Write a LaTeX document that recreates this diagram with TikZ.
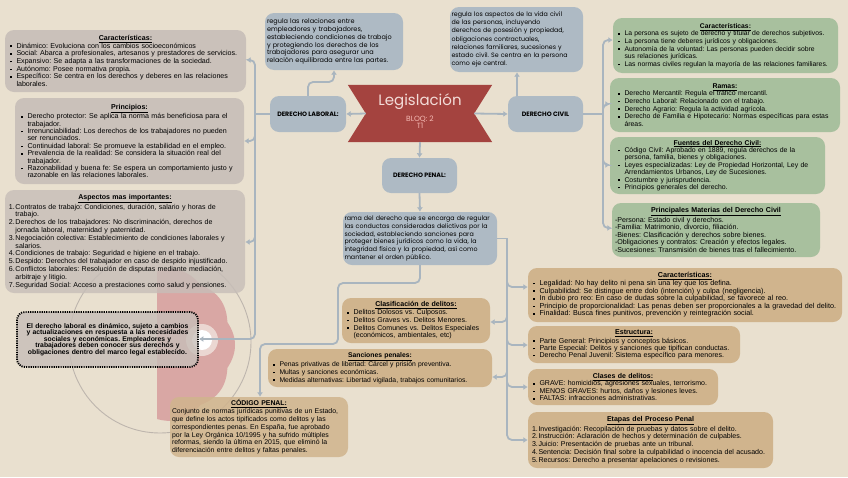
\documentclass[tikz,border=0pt]{standalone}
\usepackage{fontspec}
\setmainfont{Liberation Sans}
\newfontfamily\pop{Poppins}
\usetikzlibrary{arrows.meta,calc}
\definecolor{bgc}{HTML}{E9E0CF}
\definecolor{greyb}{HTML}{C7BEB8}
\definecolor{blueb}{HTML}{AEBAC4}
\definecolor{greenb}{HTML}{A8C09E}
\definecolor{tanb}{HTML}{D0B48D}
\definecolor{banner}{HTML}{A4433F}
\definecolor{connc}{HTML}{A9B5BF}
\definecolor{pinkl}{HTML}{EBD7D2}
\definecolor{pinkd}{HTML}{D9A7A4}
\definecolor{ringc}{HTML}{BDB5AD}
\definecolor{legt}{HTML}{F3DCD8}
\definecolor{legs}{HTML}{F4B9B3}
\setlength{\parindent}{0pt}
\frenchspacing
\hyphenpenalty=10000
\exhyphenpenalty=10000
\hfuzz=100pt
\newcommand\bul{\makebox[6.5pt][l]{\raisebox{1.1pt}{\rule{1.6pt}{1.6pt}}}}
\newcommand\Bi[1]{\bul\mbox{#1}}
\newcommand\Ci[1]{\hspace*{6.5pt}\mbox{#1}}
\newcommand\Ni[2]{\makebox[6.5pt][l]{#1}\mbox{#2}}
\newcommand\Li[1]{\mbox{#1}}
\newcommand\ttl[1]{{\centering\underline{\textbf{#1}}\par}}
\tikzset{
  bx/.style={rounded corners=9pt, inner xsep=6pt, inner ysep=2pt, align=left},
  conn/.style={draw=connc, line width=1.8pt, rounded corners=5pt},
  arr/.style={-{Latex[length=4.5pt,width=6pt]}},
  hdr/.style={rounded corners=9pt, fill=blueb, font=\pop\bfseries\fontsize{6.3}{7}\selectfont, align=center}
}
\begin{document}
\begin{tikzpicture}[x=1pt,y=-1pt]
\path[use as bounding box, fill=bgc] (0,0) rectangle (848,477);

% decoration
\fill[pinkd] plot[domain=-90:90, samples=181, smooth] ({157+(74+4*abs(cos(5*\x)))*cos(\x)}, {345+(74+4*abs(cos(5*\x)))*sin(\x)}) -- cycle;
\draw[ringc, line width=0.9pt] (160,342) circle (91);
\fill[pinkl] (202,340) circle (16);
\fill[white] (202,340) circle (10);

% left column
\node[bx, fill=greyb, fill opacity=0.9, text opacity=1, minimum width=241pt, minimum height=62pt, text width=231pt, inner xsep=5pt, font=\fontsize{7.1}{7.7}\selectfont] (LC) at (125.5,61) {\ttl{Características:}
\Bi{Dinámico: Evoluciona con los cambios socioeconómicos}\\
\Bi{Social: Abarca a profesionales, artesanos y prestadores de servicios.}\\
\Bi{Expansivo: Se adapta a las transformaciones de la sociedad.}\\
\Bi{Autónomo: Posee normativa propia.}\\
\Bi{Específico: Se centra en los derechos y deberes en las relaciones}\\
\Ci{laborales.}};

\node[bx, fill=greyb, fill opacity=0.9, text opacity=1, minimum width=229pt, minimum height=86pt, text width=217pt, inner xsep=6pt, font=\fontsize{7.1}{7.4}\selectfont] (LP) at (129.5,141) {\ttl{Principios:}
\Bi{Derecho protector: Se aplica la norma más beneficiosa para el}\\
\Ci{trabajador.}\\
\Bi{Irrenunciabilidad: Los derechos de los trabajadores no pueden}\\
\Ci{ser renunciados.}\\
\Bi{Continuidad laboral: Se promueve la estabilidad en el empleo.}\\
\Bi{Prevalencia de la realidad: Se considera la situación real del}\\
\Ci{trabajador.}\\
\Bi{Razonabilidad y buena fe: Se espera un comportamiento justo y}\\
\Ci{razonable en las relaciones laborales.}};

\node[bx, fill=greyb, fill opacity=0.82, text opacity=1, minimum width=240pt, minimum height=103pt, text width=232pt, inner xsep=4pt, font=\fontsize{7.05}{7.8}\selectfont] (LA) at (125,241.5) {\ttl{Aspectos mas importantes:}
\Ni{1.}{Contratos de trabajo: Condiciones, duración, salario y horas de}\\
\Ci{trabajo.}\\
\Ni{2.}{Derechos de los trabajadores: No discriminación, derechos de}\\
\Ci{jornada laboral, maternidad y paternidad.}\\
\Ni{3.}{Negociación colectiva: Establecimiento de condiciones laborales y}\\
\Ci{salarios.}\\
\Ni{4.}{Condiciones de trabajo: Seguridad e higiene en el trabajo.}\\
\Ni{5.}{Despido: Derechos del trabajador en caso de despido injustificado.}\\
\Ni{6.}{Conflictos laborales: Resolución de disputas mediante mediación,}\\
\Ci{arbitraje y litigio.}\\
\Ni{7.}{Seguridad Social: Acceso a prestaciones como salud y pensiones.}};

\node[rounded corners=8pt, fill=greyb, fill opacity=0.8, text opacity=1, draw=black, draw opacity=1, line width=1.8pt, dash pattern=on 1.2pt off 1.1pt, minimum width=181pt, minimum height=55pt, text width=178pt, align=center, inner xsep=1pt, font=\bfseries\fontsize{6.8}{6.5}\selectfont] (LD) at (107.5,339.5) {\Li{El derecho laboral es dinámico, sujeto a cambios}\\
\Li{y actualizaciones en respuesta a las necesidades}\\
\Li{sociales y económicas. Empleadores y}\\
\Li{trabajadores deben conocer sus derechos y}\\
\Li{obligaciones dentro del marco legal establecido.}};

% top / center
\node[bx, fill=blueb, minimum width=138pt, minimum height=57pt, text width=134pt, inner xsep=2pt, font=\pop\fontsize{6.5}{7.9}\selectfont] (LDesc) at (334,41.5) {\Li{regula las relaciones entre}\\
\Li{empleadores y trabajadores,}\\
\Li{estableciendo condiciones de trabajo}\\
\Li{y protegiendo los derechos de los}\\
\Li{trabajadores para asegurar una}\\
\Li{relación equilibrada entre las partes.}};

\node[hdr, minimum width=76pt, minimum height=36pt] (DL) at (308,114) {DERECHO LABORAL:};
\node[hdr, minimum width=75pt, minimum height=36pt] (DC) at (545.5,114) {DERECHO CIVIL};
\node[hdr, minimum width=75pt, minimum height=35pt] (DP) at (419.5,175.5) {DERECHO PENAL:};

\node[minimum width=144pt, minimum height=57pt, inner sep=0pt] (LG) at (420,113.5) {};
\fill[banner] (LG.north west) -- (LG.north east) -- ($(LG.east)+(-18,0)$) -- (LG.south east) -- (LG.south west) -- ($(LG.west)+(18,0)$) -- cycle;
\node[text=legt, font=\pop\fontsize{15}{15}\selectfont] (LGt) at (420,102) {Legislación};
\node[text=legs, font=\pop\fontsize{7.5}{8}\selectfont, align=center] (LGs) at (420,122) {BLOQ: 2\\[-0.5pt]T1};

\node[bx, fill=blueb, minimum width=133pt, minimum height=65pt, text width=130pt, inner xsep=1.5pt, font=\pop\fontsize{6.3}{8.2}\selectfont] (CDesc) at (516.5,39.5) {\Li{regula los aspectos de la vida civil}\\
\Li{de las personas, incluyendo}\\
\Li{derechos de posesión y propiedad,}\\
\Li{obligaciones contractuales,}\\
\Li{relaciones familiares, sucesiones y}\\
\Li{estado civil.  Se centra en la persona}\\
\Li{como eje central.}};

\node[bx, fill=blueb, minimum width=154pt, minimum height=53pt, text width=151pt, inner xsep=1.5pt, font=\pop\fontsize{6.3}{7.8}\selectfont] (PD) at (420,238.5) {\Li{rama del derecho que se encarga de regular}\\
\Li{las conductas consideradas delictivas por la}\\
\Li{sociedad, estableciendo sanciones para}\\
\Li{proteger bienes jurídicos como la vida, la}\\
\Li{integridad física y la propiedad, así como}\\
\Li{mantener el orden público.}};

% right green
\node[bx, fill=greenb, minimum width=225pt, minimum height=55pt, text width=215pt, inner xsep=5pt, font=\fontsize{6.8}{7.6}\selectfont] (RC) at (725.5,45.5) {\ttl{Características:}
\Bi{La persona es sujeto de derecho y titular de derechos subjetivos.}\\
\Bi{La persona tiene deberes jurídicos y obligaciones.}\\
\Bi{Autonomía de la voluntad: Las personas pueden decidir sobre}\\
\Ci{sus relaciones jurídicas.}\\
\Bi{Las normas civiles regulan la mayoría de las relaciones familiares.}};

\node[bx, fill=greenb, minimum width=230pt, minimum height=54pt, text width=214pt, inner xsep=8pt, font=\fontsize{6.9}{7.6}\selectfont] (RR) at (725,105) {\ttl{Ramas:}
\Bi{Derecho Mercantil: Regula el tráfico mercantil.}\\
\Bi{Derecho Laboral: Relacionado con el trabajo.}\\
\Bi{Derecho Agrario: Regula la actividad agrícola.}\\
\Bi{Derecho de Familia e Hipotecario: Normas específicas para estas}\\
\Ci{áreas.}};

\node[bx, fill=greenb, minimum width=215pt, minimum height=57pt, text width=199pt, inner xsep=8pt, font=\fontsize{6.9}{7.4}\selectfont] (RF) at (717.5,165.5) {\ttl{Fuentes del Derecho Civil:}
\Bi{Código Civil: Aprobado en 1889, regula derechos de la}\\
\Ci{persona, familia, bienes y obligaciones.}\\
\Bi{Leyes especializadas: Ley de Propiedad Horizontal, Ley de}\\
\Ci{Arrendamientos Urbanos, Ley de Sucesiones.}\\
\Bi{Costumbre y jurisprudencia.}\\
\Bi{Principios generales del derecho.}};

\node[bx, fill=greenb, minimum width=208pt, minimum height=54pt, text width=202pt, inner xsep=3pt, font=\fontsize{7.1}{7.6}\selectfont] (RM) at (716,230) {\ttl{Principales Materias del Derecho Civil}
\Li{-Persona: Estado civil y derechos.}\\
\Li{-Familia: Matrimonio, divorcio, filiación.}\\
\Li{-Bienes: Clasificación y derechos sobre bienes.}\\
\Li{-Obligaciones y contratos: Creación y efectos legales.}\\
\Li{-Sucesiones: Transmisión de bienes tras el fallecimiento.}};

% right tan
\node[bx, fill=tanb, minimum width=314pt, minimum height=54pt, text width=304pt, inner xsep=5pt, font=\fontsize{7.2}{7.6}\selectfont] (PC) at (685,295) {\ttl{Características:}
\Bi{Legalidad: No hay delito ni pena sin una ley que los defina.}\\
\Bi{Culpabilidad: Se distingue entre dolo (intención) y culpa (negligencia).}\\
\Bi{In dubio pro reo: En caso de dudas sobre la culpabilidad, se favorece al reo.}\\
\Bi{Principio de proporcionalidad: Las penas deben ser proporcionales a la gravedad del delito.}\\
\Bi{Finalidad: Busca fines punitivos, prevención y reintegración social.}};

\node[bx, fill=tanb, minimum width=212pt, minimum height=37pt, text width=202pt, inner xsep=5pt, font=\fontsize{7.1}{7.2}\selectfont] (PE) at (634,344.5) {\ttl{Estructura:}
\Bi{Parte General: Principios y conceptos básicos.}\\
\Bi{Parte Especial: Delitos y sanciones que tipifican conductas.}\\
\Bi{Derecho Penal Juvenil: Sistema específico para menores.}};

\node[bx, fill=tanb, minimum width=190pt, minimum height=36pt, text width=180pt, inner xsep=5pt, font=\fontsize{7.0}{7.4}\selectfont] (PCl) at (623,387) {\ttl{Clases de delitos:}
\Bi{GRAVE: homicidios, agresiones sexuales, terrorismo.}\\
\Bi{MENOS GRAVES: hurtos, daños y lesiones leves.}\\
\Bi{FALTAS: infracciones administrativas.}};

\node[bx, fill=tanb, minimum width=245pt, minimum height=56pt, text width=237pt, inner xsep=4pt, font=\fontsize{7.05}{7.7}\selectfont] (PEt) at (650.5,440) {\ttl{Etapas del Proceso Penal}
\Ni{1.}{Investigación: Recopilación de pruebas y datos sobre el delito.}\\
\Ni{2.}{Instrucción: Aclaración de hechos y determinación de culpables.}\\
\Ni{3.}{Juicio: Presentación de pruebas ante un tribunal.}\\
\Ni{4.}{Sentencia: Decisión final sobre la culpabilidad o inocencia del acusado.}\\
\Ni{5.}{Recursos: Derecho a presentar apelaciones o revisiones.}};

% center tan
\node[bx, fill=tanb, minimum width=148pt, minimum height=45pt, text width=138pt, inner xsep=5pt, font=\fontsize{7.05}{7.7}\selectfont] (CL) at (416,320.5) {\ttl{Clasificación de delitos:}
\Bi{Delitos Dolosos vs. Culposos.}\\
\Bi{Delitos Graves vs. Delitos Menores.}\\
\Bi{Delitos Comunes vs. Delitos Especiales}\\
\Ci{(económicos, ambientales, etc)}};

\node[bx, fill=tanb, minimum width=224pt, minimum height=38pt, text width=214pt, inner xsep=5pt, font=\fontsize{6.8}{7.6}\selectfont] (SA) at (380,368) {\ttl{Sanciones penales:}
\Bi{Penas privativas de libertad: Cárcel y prisión preventiva.}\\
\Bi{Multas y sanciones económicas.}\\
\Bi{Medidas alternativas: Libertad vigilada, trabajos comunitarios.}};

\node[bx, fill=tanb, fill opacity=0.85, text opacity=1, minimum width=178pt, minimum height=60pt, text width=174pt, inner xsep=2pt, font=\fontsize{6.9}{7.8}\selectfont] (CP) at (259,427) {\ttl{CÓDIGO PENAL:}
\Li{Conjunto de normas jurídicas punitivas de un Estado,}\\
\Li{que define los actos tipificados como delitos y las}\\
\Li{correspondientes penas. En España, fue aprobado}\\
\Li{por la Ley Orgánica 10/1995 y ha sufrido múltiples}\\
\Li{reformas, siendo la última en 2015, que eliminó la}\\
\Li{diferenciación entre delitos y faltas penales.}};

% connectors: legislacion
\draw[conn, arr] ($(LG.west)+(18,0)$) -- (DL.east);
\draw[conn, arr] ($(LG.east)+(-18,0)$) -- (DC.west);
\draw[conn, arr] (LG.south) -- (DP.north);
\draw[conn, arr] (DP.south) -- (PD.north);

% laboral tree
\coordinate (lj) at (255,114);
\coordinate (l1) at (255,60);
\coordinate (l2) at (255,141);
\coordinate (l3) at (255,242);
\coordinate (l4) at (255,339);
\draw[conn] (DL.west) -- (lj);
\draw[conn, arr] (lj) -- (l1) -- (LC.east |- l1);
\draw[conn, arr] (lj) -- (l2) -- (LP.east |- l2);
\draw[conn, arr] (lj) -- (l3) -- (LA.east |- l3);
\draw[conn, arr] (lj) -- (l4) -- (LD.east |- l4);
\coordinate (lu) at (308,82);
\draw[conn, arr] (DL.north) -- (lu) -- (lu -| LDesc.south) -- (LDesc.south);

% civil tree
\coordinate (cj) at (603,114);
\coordinate (c1) at (603,40);
\coordinate (c2) at (603,104);
\coordinate (c3) at (603,165);
\coordinate (c4) at (603,228);
\draw[conn] (DC.east) -- (cj);
\draw[conn, arr] (cj) -- (c1) -- (RC.west |- c1);
\draw[conn, arr] (cj) -- (c2) -- (RR.west |- c2);
\draw[conn, arr] (cj) -- (c3) -- (RF.west |- c3);
\draw[conn, arr] (cj) -- (c4) -- (RM.west |- c4);
\coordinate (cu) at (517,96);
\draw[conn, arr] (cu) -- (cu |- CDesc.south);

% penal tree
\coordinate (pj) at (507,238.5);
\coordinate (p1) at (507,287);
\coordinate (p2) at (507,345);
\coordinate (p3) at (507,387);
\coordinate (p4) at (507,440);
\coordinate (q1) at (507,322);
\coordinate (q2) at (507,377);
\draw[conn] (PD.east) -- (pj);
\draw[conn, arr] (pj) -- (p1) -- (PC.west |- p1);
\draw[conn, arr] (pj) -- (p2) -- (PE.west |- p2);
\draw[conn, arr] (pj) -- (p3) -- (PCl.west |- p3);
\draw[conn, arr] (pj) -- (p4) -- (PEt.west |- p4);
\draw[conn, arr] (pj) -- (q1) -- (CL.east |- q1);
\draw[conn, arr] (pj) -- (q2) -- (SA.east |- q2);
\coordinate (k1) at (420,283);
\coordinate (k2) at (338,283);
\coordinate (k3) at (338,344);
\coordinate (k4) at (260,344);
\draw[conn, arr] (PD.south) -- (k1) -- (k2) -- (k3) -- (k4) -- (k4 |- CP.north);
\end{tikzpicture}
\end{document}
